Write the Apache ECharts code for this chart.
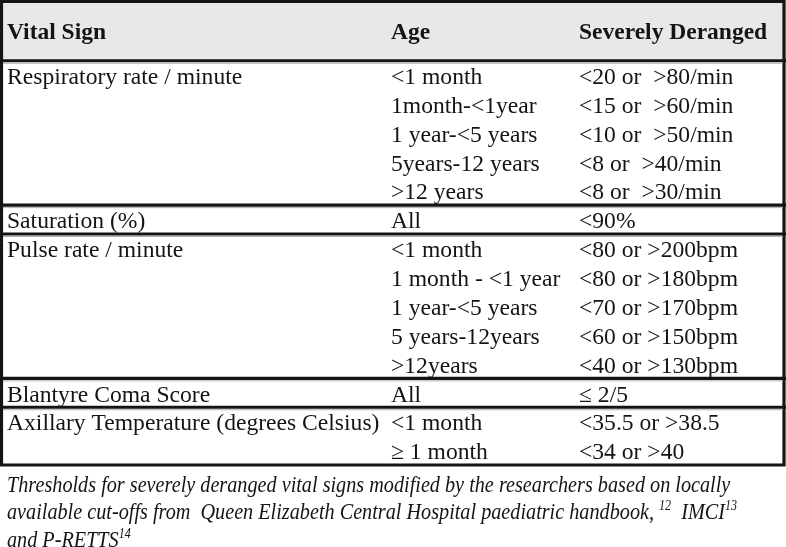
<!DOCTYPE html>
<html>
<head>
<meta charset="utf-8">
<script src="https://cdn.jsdelivr.net/npm/echarts@6/dist/echarts.min.js"></script>
<style>
html,body{margin:0;padding:0;background:#fff;}
#chart{width:786px;height:547px;}
</style>
</head>
<body>
<div id="chart"></div>
<script>
// ---- data ----
const headers = ["Vital Sign", "Age", "Severely Deranged"];
const vitalSigns = [
  "Respiratory rate / minute",
  "Saturation (%)",
  "Pulse rate / minute",
  "Blantyre Coma Score",
  "Axillary Temperature (degrees Celsius)"
];
const ageGroups = [
  ["<1 month", "1month-<1year", "1 year-<5 years", "5years-12 years", ">12 years"],
  ["All"],
  ["<1 month", "1 month - <1 year", "1 year-<5 years", "5 years-12years", ">12years"],
  ["All"],
  ["<1 month", "\u2265 1 month"]
];
const thresholds = [
  ["<20 or  >80/min", "<15 or  >60/min", "<10 or  >50/min", "<8 or  >40/min", "<8 or  >30/min"],
  ["<90%"],
  ["<80 or >200bpm", "<80 or >180bpm", "<70 or >170bpm", "<60 or >150bpm", "<40 or >130bpm"],
  ["\u2264 2/5"],
  ["<35.5 or >38.5", "<34 or >40"]
];
const footnoteLines = [
  "Thresholds for severely deranged vital signs modified by the researchers based on locally",
  "available cut-offs from  Queen Elizabeth Central Hospital paediatric handbook, {sup|12}  IMCI{sup|13}",
  "and P-RETTS{sup|14}"
];

// ---- layout ----
const W = 786;
const colX = [7, 391, 579];
const headerSlots = 2;
const INK = '#141414';

// build rows
const rows = [];
const boundaries = [headerSlots];
let slot = headerSlots;
vitalSigns.forEach((v, g) => {
  ageGroups[g].forEach((a, i) => {
    rows.push([0, slot + 0.5, i === 0 ? v : '', a, thresholds[g][i], 0]);
    slot += 1;
  });
  boundaries.push(slot);
});
const totalSlots = slot;
rows.unshift([0, headerSlots / 2, headers[0], headers[1], headers[2], 1]);

const chart = echarts.init(document.getElementById('chart'), null, {renderer: 'canvas'});
chart.setOption({
  animation: false,
  backgroundColor: '#fff',
  grid: {left: 0, right: 0, top: 3, height: 462, containLabel: false},
  xAxis: {type: 'value', min: 0, max: W, show: false},
  yAxis: {type: 'value', min: 0, max: totalSlots, inverse: true, show: false},
  series: [
    {
      type: 'custom',
      z: 1,
      data: [[0, 0]],
      renderItem: function (params, api) {
        const hb = api.coord([W, headerSlots]);
        const br = api.coord([W, totalSlots]);
        return {
          type: 'group',
          children: [
            {type: 'rect', shape: {x: 0, y: 0, width: W, height: hb[1]}, style: {fill: '#e8e8e8'}},
            {type: 'rect', shape: {x: 1.5, y: 1.5, width: W - 3.5, height: br[1] - 1.5}, style: {fill: null, stroke: INK, lineWidth: 3.2}}
          ]
        };
      }
    },
    {
      type: 'custom',
      z: 2,
      data: boundaries.slice(0, -1).map(b => [0, b]),
      renderItem: function (params, api) {
        const p = api.coord([0, api.value(1)]);
        return {
          type: 'group',
          children: [
            {type: 'line', shape: {x1: 0, y1: p[1], x2: W, y2: p[1]}, style: {stroke: INK, lineWidth: 3.2}},
            {type: 'line', shape: {x1: 3, y1: p[1] + 2.5, x2: W - 3, y2: p[1] + 2.5}, style: {stroke: '#b0b0b0', lineWidth: 1}}
          ]
        };
      }
    },
    {
      type: 'custom',
      z: 3,
      data: rows,
      renderItem: function (params, api) {
        const r = rows[params.dataIndex];
        const y = api.value(1);
        const bold = r[5] === 1;
        const children = [];
        for (let c = 0; c < 3; c++) {
          const p = api.coord([colX[c], y]);
          children.push({
            type: 'text',
            style: {
              text: r[2 + c],
              x: p[0],
              y: p[1] + (bold ? 1 : 2.5),
              align: 'left',
              verticalAlign: 'middle',
              fill: INK,
              font: (bold ? 'bold 23.5px' : '23.6px') + ' "Liberation Serif"'
            }
          });
        }
        return {type: 'group', children: children};
      }
    }
  ],
  graphic: [
    {
      type: 'text',
      left: 7,
      top: 472,
      scaleX: 0.86,
      originX: 0,
      style: {
        text: footnoteLines.join('\n'),
        fill: INK,
        font: 'italic 23.5px "Liberation Serif"',
        lineHeight: 27.5,
        rich: {
          sup: {font: 'italic 14px "Liberation Serif"', verticalAlign: 'top', lineHeight: 27.5, fill: INK}
        }
      }
    }
  ]
});
</script>
</body>
</html>
